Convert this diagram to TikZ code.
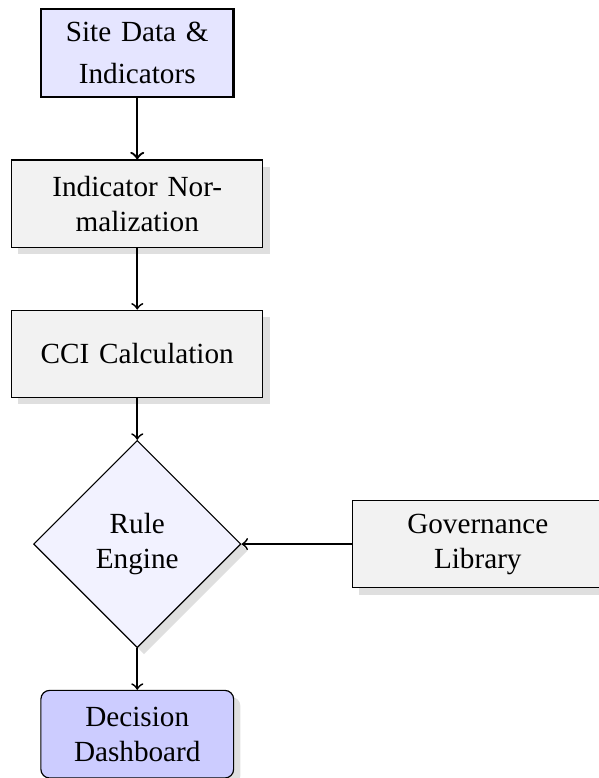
\documentclass[tikz,border=0pt]{standalone}
\usepackage{fontspec}
\setmainfont{Liberation Serif}
\usetikzlibrary{positioning,shapes.geometric,shadows}

\begin{document}
\begin{tikzpicture}[
  base/.style={draw, align=center, minimum height=30pt, inner sep=3pt},
  inbox/.style={base, thick, fill=blue!10, text width=60pt},
  procbox/.style={base, fill=gray!10, text width=68pt, minimum width=86pt,
    drop shadow={opacity=0.25}},
  rulebox/.style={draw, diamond, aspect=1, align=center, minimum width=71pt,
    minimum height=71pt, inner sep=1pt, fill=blue!5, drop shadow={opacity=0.25}},
  outbox/.style={base, rounded corners=3pt, fill=blue!20, text width=60pt,
    drop shadow={opacity=0.25}},
  flow/.style={->, semithick}
]
  % --- spacing ---
  \def\gap{21pt}   % between boxes
  \def\dgap{14.2pt}% above and below the diamond
  \def\side{37.7pt}% to the library box

  % --- page frame ---
  \useasboundingbox (0,0) rectangle (205.1pt,-266.4pt);

  % --- main column ---
  \node[inbox] (site) at (47pt,-18.2pt) {Site Data \&\\[2.4pt] Indicators};
  \node[procbox, below=\gap of site] (norm) {Indicator Nor-\\malization};
  \node[procbox, below=\gap of norm] (cci) {CCI Calculation};
  \node[rulebox, below=\dgap of cci] (rule) {Rule\\Engine};
  \node[outbox, below=\dgap of rule] (dash) {Decision\\Dashboard};

  % --- side input ---
  \node[procbox, right=\side of rule] (gov) {Governance Library};

  % --- connectors ---
  \draw[->, thick] (site) -- (norm);
  \draw[flow] (norm) -- (cci);
  \draw[flow] (cci) -- (rule);
  \draw[flow] (rule) -- (dash);
  \draw[flow] (gov) -- (rule);
\end{tikzpicture}
\end{document}
